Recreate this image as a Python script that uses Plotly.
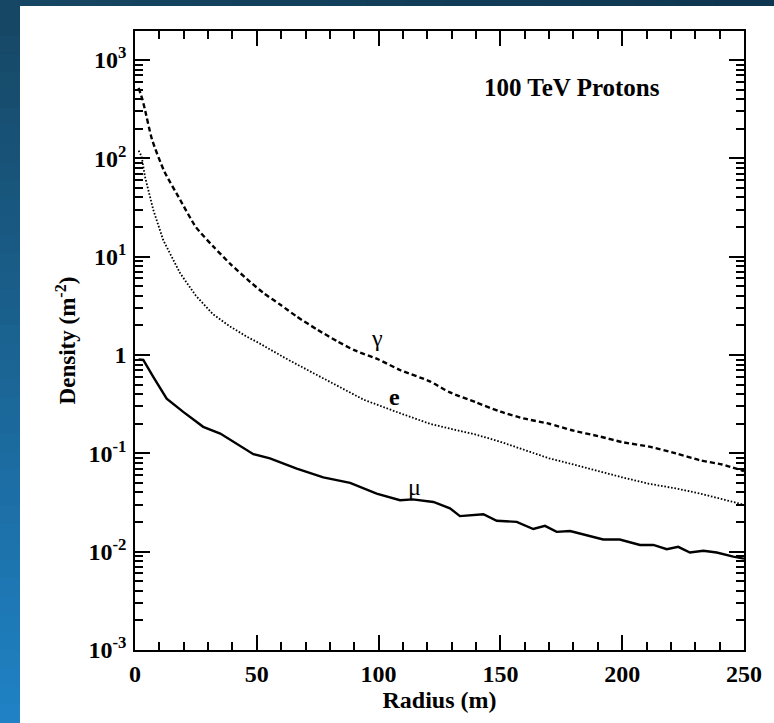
import plotly.graph_objects as go
import numpy as np

# ---- data ----
r_gamma = [1.5, 3, 4, 7, 12, 18.5, 25, 32, 39, 46, 52.6, 60, 66.4, 75, 83, 90, 100,
           109, 121, 129, 140, 150, 160, 170, 180, 191, 200, 211, 222, 232, 241, 250]
d_gamma = [520, 400, 320, 155, 74, 38, 20, 12.8, 8.5, 5.9, 4.3, 3.2, 2.46, 1.8, 1.38, 1.12, 0.90,
           0.70, 0.54, 0.42, 0.33, 0.265, 0.225, 0.20, 0.17, 0.148, 0.13, 0.117, 0.10, 0.085, 0.077, 0.066]

r_e = [1.5, 2.7, 4.1, 7.5, 11.6, 18.5, 25, 32, 39, 46, 50, 62, 75, 85, 94, 109, 121, 129,
       140, 150, 160, 170, 180, 191, 200, 211, 222, 232, 241, 250]
d_e = [120, 105, 65, 30, 14.7, 6.8, 4.0, 2.6, 1.95, 1.53, 1.36, 0.92, 0.62, 0.46, 0.35, 0.255, 0.20, 0.179,
       0.155, 0.131, 0.108, 0.089, 0.077, 0.065, 0.057, 0.049, 0.044, 0.039, 0.034, 0.030]

r_mu = [1.5, 3.4, 7.5, 13, 19.8, 28, 35, 40.4, 48.6, 55.4, 66.4, 77.3, 88.3, 99.2, 108.8, 114,
        122.5, 129.3, 133.4, 143, 148.5, 156.7, 163.5, 168.3, 173.1, 178.6, 192.2, 199, 207.3,
        212.8, 218.3, 223, 227.8, 233.3, 238.8, 245.6, 250]
d_mu = [0.90, 0.89, 0.60, 0.36, 0.264, 0.186, 0.159, 0.131, 0.098, 0.089, 0.070, 0.057, 0.050, 0.039,
        0.0334, 0.034, 0.032, 0.0276, 0.023, 0.024, 0.0206, 0.0201, 0.017, 0.0183, 0.0159, 0.0162,
        0.0133, 0.0133, 0.0117, 0.0117, 0.0106, 0.0112, 0.0098, 0.0102, 0.0098, 0.0089, 0.0085]

y_tickvals = [1e-3, 1e-2, 1e-1, 1, 1e1, 1e2, 1e3]
y_ticktext = ["10<sup>-3</sup>", "10<sup>-2</sup>", "10<sup>-1</sup>", "1",
              "10<sup>1</sup>", "10<sup>2</sup>", "10<sup>3</sup>"]
x_tickvals = [0, 50, 100, 150, 200, 250]

FONT = "Liberation Serif"

fig = go.Figure()
fig.add_trace(go.Scatter(x=r_gamma, y=d_gamma, mode="lines", name="γ", line_shape="spline",
                         line=dict(color="black", width=2.4, dash="5px,3px", smoothing=0.6)))
fig.add_trace(go.Scatter(x=r_e, y=d_e, mode="lines", name="e",
                         line=dict(color="black", width=1.8, dash="1.6px,1.8px")))
fig.add_trace(go.Scatter(x=r_mu, y=d_mu, mode="lines", name="μ",
                         line=dict(color="black", width=2.4)))

minor_y = [m * 10.0 ** k for k in range(-3, 3) for m in range(2, 10)]

ml, mr, mt, mb = 135, 30, 31, 73
W, H = 774, 723
pw, ph = W - ml - mr, H - mt - mb

def px2paper_x(px):
    return (px - ml) / pw

def px2paper_y(py):
    return (H - mb - py) / ph

shapes = []
# background gradient strips (left and top)
n = 40
c0 = np.array([0x16, 0x47, 0x64])
c1 = np.array([0x20, 0x82, 0xc4])
for i in range(n):
    t = i / (n - 1)
    c = (c0 * (1 - t) + c1 * t).astype(int)
    shapes.append(dict(type="rect", xref="paper", yref="paper", layer="below",
                       x0=px2paper_x(-2), x1=px2paper_x(20),
                       y0=px2paper_y(H * (i + 1) / n + 1.5), y1=px2paper_y(H * i / n - 0.5),
                       fillcolor="rgb(%d,%d,%d)" % tuple(c), line=dict(width=0)))
for i in range(n):
    t = i / (n - 1)
    ca = np.array([0x16, 0x47, 0x64]) * (1 - t) + np.array([0x0f, 0x36, 0x50]) * t
    c = ca.astype(int)
    shapes.append(dict(type="rect", xref="paper", yref="paper", layer="below",
                       x0=px2paper_x(W * i / n - 0.5), x1=px2paper_x(W * (i + 1) / n + 1.5),
                       y0=px2paper_y(6), y1=px2paper_y(-2),
                       fillcolor="rgb(%d,%d,%d)" % tuple(c), line=dict(width=0)))

fig.update_layout(
    width=W, height=H,
    margin=dict(l=ml, r=mr, t=mt, b=mb, autoexpand=False),
    paper_bgcolor="white", plot_bgcolor="white",
    showlegend=False,
    shapes=shapes,
    font=dict(family=FONT, color="black"),
    xaxis=dict(range=[0, 250], tickmode="array", tickvals=x_tickvals, automargin=False,
               ticks="inside", ticklen=15, tickwidth=1.5, tickcolor="black",
               showline=True, linecolor="black", linewidth=1.5, mirror="allticks",
               showgrid=False, zeroline=False, ticklabelstandoff=1,
               minor=dict(tickmode="linear", tick0=0, dtick=10, ticks="inside",
                          ticklen=8, tickwidth=1.5, tickcolor="black", showgrid=False),
               tickfont=dict(family=FONT, size=24, weight="bold"),
               title=dict(text="Radius (m)", font=dict(family=FONT, size=24, weight="bold"),
                          standoff=4)),
    yaxis=dict(type="log", range=[-3, 3.295], tickmode="array", automargin=False,
               tickvals=y_tickvals, ticktext=y_ticktext,
               ticks="inside", ticklen=15, tickwidth=1.5, tickcolor="black",
               showline=True, linecolor="black", linewidth=1.5, mirror="allticks",
               showgrid=False, zeroline=False, ticklabelstandoff=2,
               minor=dict(tickmode="array", tickvals=minor_y, ticks="inside",
                          ticklen=8, tickwidth=1.5, tickcolor="black", showgrid=False),
               tickfont=dict(family=FONT, size=24, weight="bold"),
               title=dict(text="Density (m<sup>-2</sup>)",
                          font=dict(family=FONT, size=23, weight="bold"), standoff=6)),
)

fig.add_annotation(text="100 TeV Protons", xref="paper", yref="paper",
                   x=px2paper_x(572), y=px2paper_y(87), xanchor="center", yanchor="middle",
                   showarrow=False, font=dict(family=FONT, size=25, weight="bold"))
fig.add_annotation(text="γ", x=99.3, y=np.log10(1.49), showarrow=False,
                   xanchor="center", yanchor="middle", font=dict(family=FONT, size=24))
fig.add_annotation(text="e", x=106.7, y=np.log10(0.37), showarrow=False,
                   xanchor="center", yanchor="middle",
                   font=dict(family=FONT, size=24, weight="bold"))
fig.add_annotation(text="μ", x=114.9, y=np.log10(0.0453), showarrow=False,
                   xanchor="center", yanchor="middle", font=dict(family=FONT, size=24))

fig.write_html("out.html", config={"displayModeBar": False},
               post_script="document.body.style.margin='0';document.body.style.padding='0';")
